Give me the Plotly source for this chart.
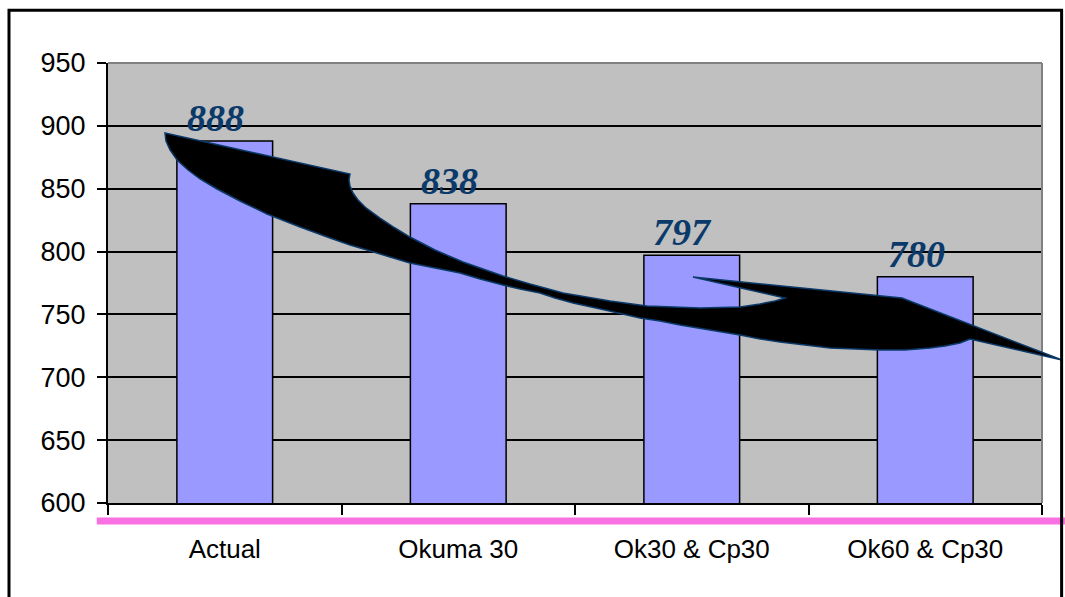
import plotly.graph_objects as go

# Chart data
categories = ["Actual", "Okuma 30", "Ok30 & Cp30", "Ok60 & Cp30"]
values = [888, 838, 797, 780]
y_ticks = [600, 650, 700, 750, 800, 850, 900, 950]

# Plot-area size in pixels (used to place the decorative arrow)
PLOT_W, PLOT_H = 934, 440

# Decorative curved arrow outline, as pixel offsets from the plot area's top-left corner
arrow_px = [
    (57, 70), (242, 111), (241, 117), (242, 123), (245, 130), (250, 137), (258, 145),
    (272, 155), (287, 165), (302, 174), (327, 187), (355, 199), (395, 213), (422, 221),
    (455, 230), (502, 238), (539, 243), (592, 245), (632, 244), (652, 241), (667, 238),
    (677, 235), (585, 214), (794, 235), (954, 297), (862, 276),
    (852, 280), (837, 283), (822, 285), (797, 287), (772, 287), (747, 286), (722, 285),
    (697, 282), (672, 279), (652, 276), (632, 272), (602, 267), (572, 262), (552, 258),
    (532, 255), (497, 247), (465, 240), (447, 235), (432, 230), (412, 226), (395, 222),
    (372, 216), (352, 210), (327, 205), (302, 200), (282, 194), (259, 187), (242, 182),
    (222, 175), (192, 164), (159, 151), (132, 138), (109, 126), (92, 116), (80, 107),
    (69, 97), (62, 87), (58, 78),
]

arrow_path = "M " + " L ".join(
    f"{x / PLOT_W:.4f},{1 - y / PLOT_H:.4f}" for x, y in arrow_px
) + " Z"

fig = go.Figure()
fig.add_trace(go.Bar(
    x=categories,
    y=values,
    marker=dict(color="#9999FF", line=dict(color="black", width=1.5)),
    hoverinfo="skip",
))

annotations = []
for cat, v in zip(categories, values):
    annotations.append(dict(
        x=cat, y=v, xref="x", yref="y", text=str(v), showarrow=False,
        yanchor="bottom", xshift=-9, yshift=0,
        font=dict(family="Times New Roman, Liberation Serif, serif", size=38,
                  color="#0B3A6A", weight="bold", style="italic"),
    ))

shapes = [
    # gray frame on top and right of the plot area
    dict(type="line", xref="paper", yref="paper", x0=0, x1=1, y0=1, y1=1,
         line=dict(color="#808080", width=2), layer="above"),
    dict(type="line", xref="paper", yref="paper", x0=1, x1=1, y0=0, y1=1,
         line=dict(color="#808080", width=2), layer="above"),
    # curved arrow
    dict(type="path", xref="paper", yref="paper", path=arrow_path,
         fillcolor="black", line=dict(color="#0B3A6A", width=1.5), layer="above"),
    # pink rule under the axis
    dict(type="line", xref="paper", yref="paper", x0=-0.012, x1=1.03, y0=-0.041, y1=-0.041,
         line=dict(color="#F870E2", width=7), layer="above"),
    # outer border
    dict(type="rect", xref="paper", yref="paper", x0=-0.106, x1=1.021, y0=-0.3, y1=1.12,
         line=dict(color="black", width=3), fillcolor="rgba(0,0,0,0)", layer="above"),
]

fig.update_layout(
    width=1065, height=597,
    margin=dict(l=108, r=23, t=63, b=94),
    paper_bgcolor="white",
    plot_bgcolor="#C0C0C0",
    showlegend=False,
    bargap=0.59,
    annotations=annotations,
    shapes=shapes,
    font=dict(family="Arial, Liberation Sans, sans-serif", size=26, color="black"),
)

fig.update_xaxes(
    type="category",
    tickson="boundaries",
    ticks="outside", ticklen=10, tickwidth=1.5, tickcolor="black",
    showline=True, linecolor="black", linewidth=2,
    showgrid=False,
    tickfont=dict(family="Arial, Liberation Sans, sans-serif", size=26, color="black"),
    ticklabelstandoff=22,
)
fig.update_yaxes(
    range=[600, 950],
    tickvals=y_ticks,
    ticks="outside", ticklen=9, tickwidth=1.5, tickcolor="black",
    showline=True, linecolor="black", linewidth=2,
    showgrid=True, gridcolor="black", gridwidth=2,
    zeroline=False,
    tickfont=dict(family="Arial, Liberation Sans, sans-serif", size=27, color="black"),
    ticklabelstandoff=6,
)

fig.write_html("out.html")
